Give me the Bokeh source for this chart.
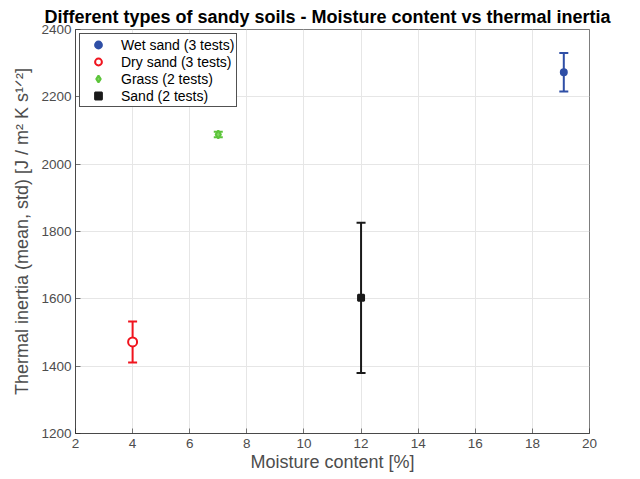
from bokeh.plotting import figure
from bokeh.models import ColumnDataSource, Whisker, TeeHead, Legend, LegendItem, FixedTicker
from bokeh.embed import file_html
from bokeh.resources import INLINE

categories = ["Wet sand (3 tests)", "Dry sand (3 tests)", "Grass (2 tests)", "Sand (2 tests)"]
moisture = [19.1, 4.0, 7.0, 12.0]
inertia_mean = [2273, 1472, 2088, 1603]
inertia_std = [57, 61, 8, 223]
colors = ["#2f4fa6", "#f0141e", "#5cc43a", "#1a1a1a"]
markers = ["circle", "circle", "diamond", "square"]
fills = ["#2f4fa6", "white", "#7ed65e", "#1a1a1a"]
sizes = [6, 9, 8, 6]

x_ticks = [2, 4, 6, 8, 10, 12, 14, 16, 18, 20]
y_ticks = [1200, 1400, 1600, 1800, 2000, 2200, 2400]

FONT = "Liberation Sans"
p = figure(width=640, height=479, x_range=(2, 20), y_range=(1200, 2400),
           output_backend="svg", toolbar_location=None,
           min_border_left=75, min_border_right=51, min_border_top=29, min_border_bottom=46,
           title="Different types of sandy soils - Moisture content vs thermal inertia")
p.title.text_font = FONT
p.title.text_font_size = "18px"
p.title.text_font_style = "bold"
p.title.align = "left"
p.title.offset = -31
p.title.text_color = "#000000"
p.title.standoff = 5

p.background_fill_color = "white"
p.border_fill_color = "white"
p.outline_line_color = "#262626"
p.outline_line_alpha = 0.6

for ax, ticks in ((p.xaxis, x_ticks), (p.yaxis, y_ticks)):
    ax.ticker = FixedTicker(ticks=ticks)
    ax.major_tick_in = 5
    ax.major_tick_out = 0
    ax.minor_tick_in = 0
    ax.minor_tick_out = 0
    ax.axis_line_color = "#262626"
    ax.axis_line_alpha = 0.6
    ax.major_tick_line_color = "#262626"
    ax.major_tick_line_alpha = 0.6
    ax.major_label_text_font = FONT
    ax.major_label_text_font_size = "13.5px"
    ax.major_label_text_color = "#4d4d4d"
    ax.axis_label_text_font = FONT
    ax.axis_label_text_font_size = "18px"
    ax.axis_label_text_font_style = "normal"
    ax.axis_label_text_color = "#4d4d4d"

p.xaxis.axis_label = "Moisture content [%]"
p.yaxis.axis_label = "Thermal inertia (mean, std) [J / m² K s¹ᐟ²]"
p.xaxis.major_label_standoff = 5
p.yaxis.major_label_standoff = 4
p.xaxis.axis_label_standoff = 1
p.yaxis.axis_label_standoff = 6

p.xgrid.grid_line_color = "#e6e6e6"
p.ygrid.grid_line_color = "#e6e6e6"

items = []
for i in range(len(categories)):
    src = ColumnDataSource(dict(x=[moisture[i]], y=[inertia_mean[i]],
                                lo=[inertia_mean[i] - inertia_std[i]],
                                hi=[inertia_mean[i] + inertia_std[i]]))
    w = Whisker(source=src, base="x", lower="lo", upper="hi", dimension="height",
                line_color=colors[i], line_width=2,
                upper_head=TeeHead(size=9, line_color=colors[i], line_width=2),
                lower_head=TeeHead(size=9, line_color=colors[i], line_width=2))
    p.add_layout(w)
    r = p.scatter("x", "y", source=src, marker=markers[i], size=sizes[i],
                  line_color=colors[i], fill_color=fills[i], line_width=2)
    items.append(LegendItem(label=categories[i], renderers=[r]))

legend = Legend(items=items, location="top_left")
legend.label_text_font = FONT
legend.label_text_font_size = "14px"
legend.label_text_color = "#000000"
legend.border_line_color = "#262626"
legend.border_line_alpha = 0.8
legend.background_fill_alpha = 1
legend.spacing = 0
legend.padding = 2
legend.margin = 4
legend.glyph_height = 17
legend.glyph_width = 32
legend.label_height = 17
legend.label_standoff = 7
p.add_layout(legend)

open("out.html", "w").write(file_html(p, INLINE))
